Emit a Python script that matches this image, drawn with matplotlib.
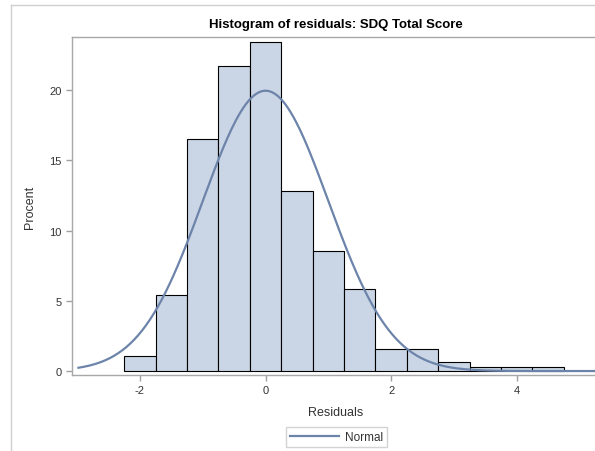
import numpy as np
import matplotlib
matplotlib.use("Agg")
import matplotlib.pyplot as plt
from matplotlib.lines import Line2D

plt.rcParams['font.family'] = ['Liberation Sans', 'DejaVu Sans']

# Histogram of residuals: bin midpoints and percentage per bin
bin_mid = [-2.0, -1.5, -1.0, -0.5, 0.0, 0.5, 1.0, 1.5, 2.0, 2.5, 3.0, 3.5, 4.0, 4.5]
percent = [1.05, 5.4, 16.5, 21.7, 23.4, 12.8, 8.55, 5.85, 1.57, 1.57, 0.62, 0.26, 0.26, 0.26]
bin_width = 0.5

# Fitted normal curve parameters
mu, sigma = 0.0, 1.0
x_ticks = [-2, 0, 2, 4]
y_ticks = [0, 5, 10, 15, 20]

W, H = 595, 452
fig = plt.figure(figsize=(W / 100, H / 100), dpi=100)

# Outer frame lines
fig.add_artist(Line2D([11 / W, 11 / W], [0, 1 - 6 / H], transform=fig.transFigure,
                      color='#cfcfcf', lw=1))
fig.add_artist(Line2D([11 / W, 1], [1 - 6 / H, 1 - 6 / H], transform=fig.transFigure,
                      color='#cfcfcf', lw=1))

left, right, top, bottom = 72.3, 599, 38.3, 375.7
ax = fig.add_axes([left / W, 1 - bottom / H, (right - left) / W, (bottom - top) / H])

ax.bar(bin_mid, percent, width=bin_width, color='#cad5e5', edgecolor='black',
       linewidth=0.8, zorder=2)

xs = np.linspace(-2.98, 5.4, 400)
ys = 100 * bin_width * np.exp(-0.5 * ((xs - mu) / sigma) ** 2) / (sigma * np.sqrt(2 * np.pi))
ax.plot(xs, ys, color='#6d84aa', lw=1.6, zorder=3, label='Normal')

ax.set_xlim(-3.078, 5.31)
ax.set_ylim(-0.26, 23.75)
ax.set_xticks(x_ticks)
ax.set_xticklabels([str(t) for t in x_ticks])
ax.set_yticks(y_ticks)

for s in ax.spines.values():
    s.set_color('#a8a8a8')
    s.set_linewidth(1.0)
ax.tick_params(axis='both', colors='#a0a0a0', labelcolor='#333333', labelsize=8,
               length=4, width=1)

ax.set_xlabel('Residuals', fontsize=9, color='#333333', labelpad=8)
ax.set_ylabel('Procent', fontsize=9, color='#333333', labelpad=10)
fig.text(335.8 / W, 1 - 25 / H, 'Histogram of residuals: SDQ Total Score',
         ha='center', va='center', fontsize=9.5, fontweight='bold', color='black')

leg = fig.legend(handles=ax.get_lines(), loc='center',
                 bbox_to_anchor=(336.5 / W, 1 - 438 / H), fontsize=8.5,
                 handlelength=4.2, frameon=True, fancybox=False,
                 borderpad=0.3, handletextpad=0.5, labelcolor='#333333')
leg.get_frame().set_edgecolor('#c8c8c8')
leg.get_frame().set_linewidth(1.0)

fig.savefig('out.png', dpi=100)
